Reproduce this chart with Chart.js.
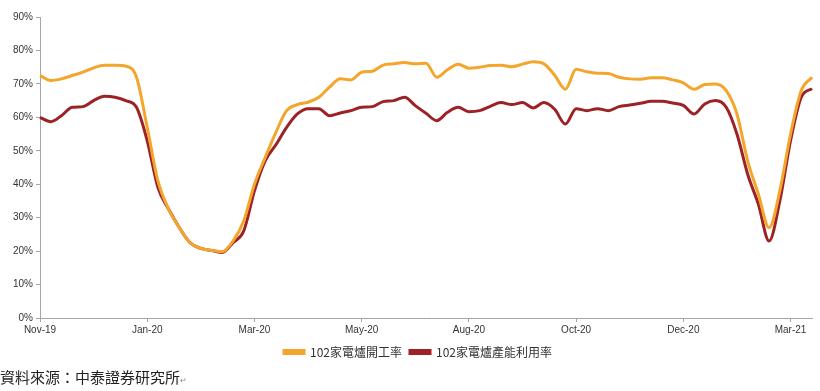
<!DOCTYPE html>
<html>
<head>
<meta charset="utf-8">
<script src="https://cdn.jsdelivr.net/npm/chart.js@4.4.1/dist/chart.umd.min.js"></script>
<style>
    html, body {
        margin: 0;
        padding: 0;
        background: #ffffff;
    }
    #wrap {
        position: relative;
        width: 820px;
        height: 368px;
    }
    #source {
        position: absolute;
        left: 0px;
        top: 366px;
        font-family: "Noto Sans CJK TC", "Liberation Sans", sans-serif;
        font-size: 15px;
        line-height: 22px;
        color: #222;
    }
    #source span {
        font-size: 8px;
        color: #888;
    }
</style>
</head>
<body>
<div id="wrap">
    <canvas id="lineChart" width="820" height="368"></canvas>
</div>
<div id="source">資料來源：中泰證券研究所<span>↵</span></div>

<script>
// 週資料，每 10 週標一個月份
const tickLabels = [
    "Nov-19", "Jan-20", "Mar-20", "May-20",
    "Aug-20", "Oct-20", "Dec-20", "Mar-21"
];
const labelEvery = 10;

const seriesNames = [
    "102家電爐開工率",
    "102家電爐產能利用率"
];

// 開工率 (%)
const openRate = [
    72.5, 71.0, 71.5, 72.5, 73.5, 74.8, 75.6, 75.6, 75.3, 72.0,
    57.0, 41.0, 32.5, 27.0, 22.5, 20.8, 20.2, 19.8, 23.0, 29.0,
    40.0, 48.0, 55.5, 62.0, 63.8, 64.5, 66.0, 69.0, 71.5, 71.2,
    73.5, 73.8, 75.6, 76.0, 76.4, 76.0, 76.2, 72.0, 74.2, 75.9,
    74.7, 75.0, 75.5, 75.6, 75.1, 75.9, 76.6, 76.0, 72.6, 68.4,
    74.4, 73.6, 73.2, 73.1, 72.0, 71.5, 71.4, 71.8, 71.8, 71.2,
    70.3, 68.4, 69.8, 70.0, 68.0, 61.0, 47.0, 37.0, 27.0, 38.0,
    55.0, 68.0, 72.0
];

// 產能利用率 (%)
const capacityRate = [
    60.0, 58.7, 60.5, 63.0, 63.2, 65.0, 66.3, 66.0, 65.0, 63.0,
    53.0, 39.0, 32.5, 27.0, 22.5, 20.8, 20.2, 19.6, 22.5, 26.0,
    38.0, 47.0, 51.8, 57.0, 61.0, 62.6, 62.6, 60.5, 61.3, 62.0,
    63.0, 63.2, 64.7, 65.0, 66.0, 63.5, 61.2, 59.0, 61.5, 63.0,
    61.7, 62.0, 63.3, 64.4, 63.8, 64.4, 62.8, 64.4, 62.4, 58.0,
    62.6, 62.0, 62.6, 62.0, 63.2, 63.7, 64.2, 64.8, 64.8, 64.3,
    63.6, 61.0, 64.0, 65.0, 63.0, 55.0, 43.0, 34.0, 23.0, 35.0,
    53.0, 66.0, 68.6
];

const weeks = openRate.map((_, i) => i);

const axisColor = "#a6a6a6";
const textColor = "#333333";
const tickFont = {
    family: "'Liberation Sans', Arial, sans-serif",
    size: 10
};

// 圖例置中於繪圖區，而非整張畫布
const legendShift = {
    id: "legendShift",
    afterLayout(chart) {
        chart.legend.left += 12;
        chart.legend.right += 12;
    }
};

function createLineChart() {

    const ctx =
        document.getElementById("lineChart");

    new Chart(ctx, {

        type: "line",

        data: {
            labels: weeks,
            datasets: [
                {
                    label: seriesNames[0],
                    data: openRate,
                    borderColor: "#f4a52b",
                    backgroundColor: "#f4a52b",
                    borderWidth: 3,
                    pointRadius: 0,
                    tension: 0.4,
                    cubicInterpolationMode: "monotone"
                },
                {
                    label: seriesNames[1],
                    data: capacityRate,
                    borderColor: "#9c2226",
                    backgroundColor: "#9c2226",
                    borderWidth: 3,
                    pointRadius: 0,
                    tension: 0.4,
                    cubicInterpolationMode: "monotone"
                }
            ]
        },

        plugins: [legendShift],

        options: {
            responsive: false,
            animation: false,
            layout: {
                padding: { top: 17, right: 8, left: 0, bottom: 0 }
            },
            plugins: {
                tooltip: { enabled: false },
                legend: {
                    position: "bottom",
                    labels: {
                        boxWidth: 20,
                        boxHeight: 3,
                        padding: 8,
                        color: textColor,
                        font: {
                            family: "'Noto Sans CJK TC', sans-serif",
                            size: 12
                        }
                    }
                }
            },
            scales: {
                x: {
                    type: "category",
                    offset: false,
                    grid: {
                        display: true,
                        drawOnChartArea: false,
                        drawTicks: true,
                        tickLength: 4,
                        color: axisColor
                    },
                    border: { color: axisColor, width: 1 },
                    ticks: {
                        autoSkip: false,
                        maxRotation: 0,
                        padding: 2,
                        color: textColor,
                        font: tickFont,
                        callback: (val, idx) =>
                            idx % labelEvery === 0
                                ? tickLabels[idx / labelEvery]
                                : null
                    }
                },
                y: {
                    min: 0,
                    max: 90,
                    afterFit: scale => { scale.width = 40; },
                    grid: {
                        display: true,
                        drawOnChartArea: false,
                        drawTicks: true,
                        tickLength: 4,
                        color: axisColor
                    },
                    border: { color: axisColor, width: 1 },
                    ticks: {
                        stepSize: 10,
                        padding: 3,
                        color: textColor,
                        font: tickFont,
                        callback: v => v + "%"
                    }
                }
            }
        }
    });
}

createLineChart();
</script>
</body>
</html>
